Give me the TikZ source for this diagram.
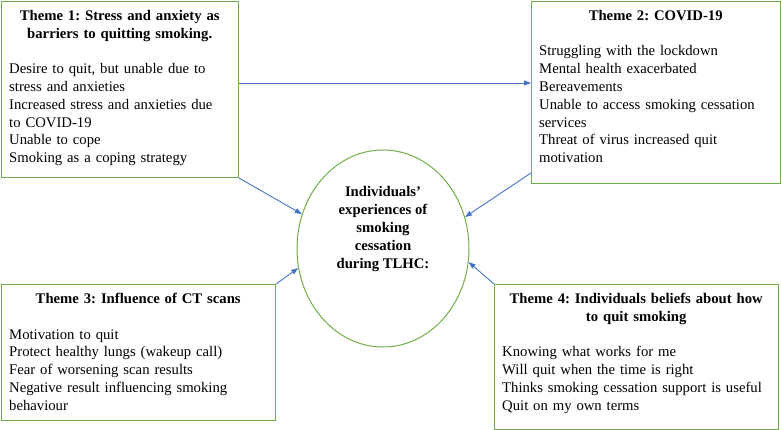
\documentclass[tikz,border=0pt]{standalone}
\usepackage{fontspec}
\setmainfont{Liberation Serif}
\usetikzlibrary{shapes.geometric,arrows.meta}
\definecolor{boxgreen}{RGB}{112,173,71}
\definecolor{arrowblue}{RGB}{68,114,196}
\frenchspacing
\newcommand{\themehead}[1]{{\centering\bfseries #1\par}\vspace{17.8pt}}

\begin{document}
\begin{tikzpicture}[x=1pt,y=-1pt,
  themebox/.style={draw=boxgreen,line width=1pt,anchor=north west,inner sep=0pt},
  themetext/.style={anchor=north west,inner sep=0pt,align=left,font=\fontsize{14.7}{17.8}\selectfont},
  flow/.style={draw=arrowblue,line width=0.9pt,-{Triangle[length=7pt,width=5pt]}}]
\useasboundingbox (0,0) rectangle (781,430);
% theme boxes
\node[themebox,minimum width=237pt,minimum height=176pt] (box1) at (1,1) {};
\node[themetext,text width=221pt] (txt1) at ([shift={(8pt,-9pt)}]box1.north west)
  {\themehead{Theme 1: Stress and anxiety as\\barriers to quitting smoking.}%
  Desire to quit, but unable due to\\stress and anxieties\\Increased stress and anxieties due\\to COVID-19\\Unable to cope\\Smoking as a coping strategy};
\node[themebox,minimum width=249pt,minimum height=182pt] (box2) at (531,1) {};
\node[themetext,text width=233pt] (txt2) at ([shift={(8pt,-9pt)}]box2.north west)
  {\themehead{Theme 2: COVID-19}%
  Struggling with the lockdown\\Mental health exacerbated\\Bereavements\\Unable to access smoking cessation\\services\\Threat of virus increased quit\\motivation};
\node[themebox,minimum width=274pt,minimum height=136pt] (box3) at (1,284) {};
\node[themetext,text width=258pt] (txt3) at ([shift={(8pt,-9pt)}]box3.north west)
  {\themehead{Theme 3: Influence of CT scans}%
  Motivation to quit\\Protect healthy lungs (wakeup call)\\Fear of worsening scan results\\Negative result influencing smoking\\behaviour};
\node[themebox,minimum width=284pt,minimum height=145pt] (box4) at (494,284) {};
\node[themetext,text width=268pt] (txt4) at ([shift={(8pt,-9pt)}]box4.north west)
  {\themehead{Theme 4: Individuals beliefs about how\\to quit smoking}%
  Knowing what works for me\\Will quit when the time is right\\Thinks smoking cessation support is useful\\Quit on my own terms};
% centre
\node[draw=boxgreen,line width=1pt,ellipse,minimum width=172pt,minimum height=197pt,inner sep=0pt] (core) at (383,248.5) {};
\node[font=\bfseries\fontsize{14.7}{17.8}\selectfont,align=center] (coretxt) at (383,229)
  {Individuals’\\experiences of\\smoking\\cessation\\during TLHC:};
% arrows
\coordinate (hstart) at ([yshift=-82pt]box1.north east);
\draw[flow] (hstart) -- (hstart -| box2.west);
\draw[flow] (box1.south east) -- (core.157);
\draw[flow] ([yshift=11pt]box2.south west) -- (core.21);
\draw[flow] (box3.north east) -- (core.193);
\draw[flow] (box4.north west) -- (core.351);
\end{tikzpicture}
\end{document}
